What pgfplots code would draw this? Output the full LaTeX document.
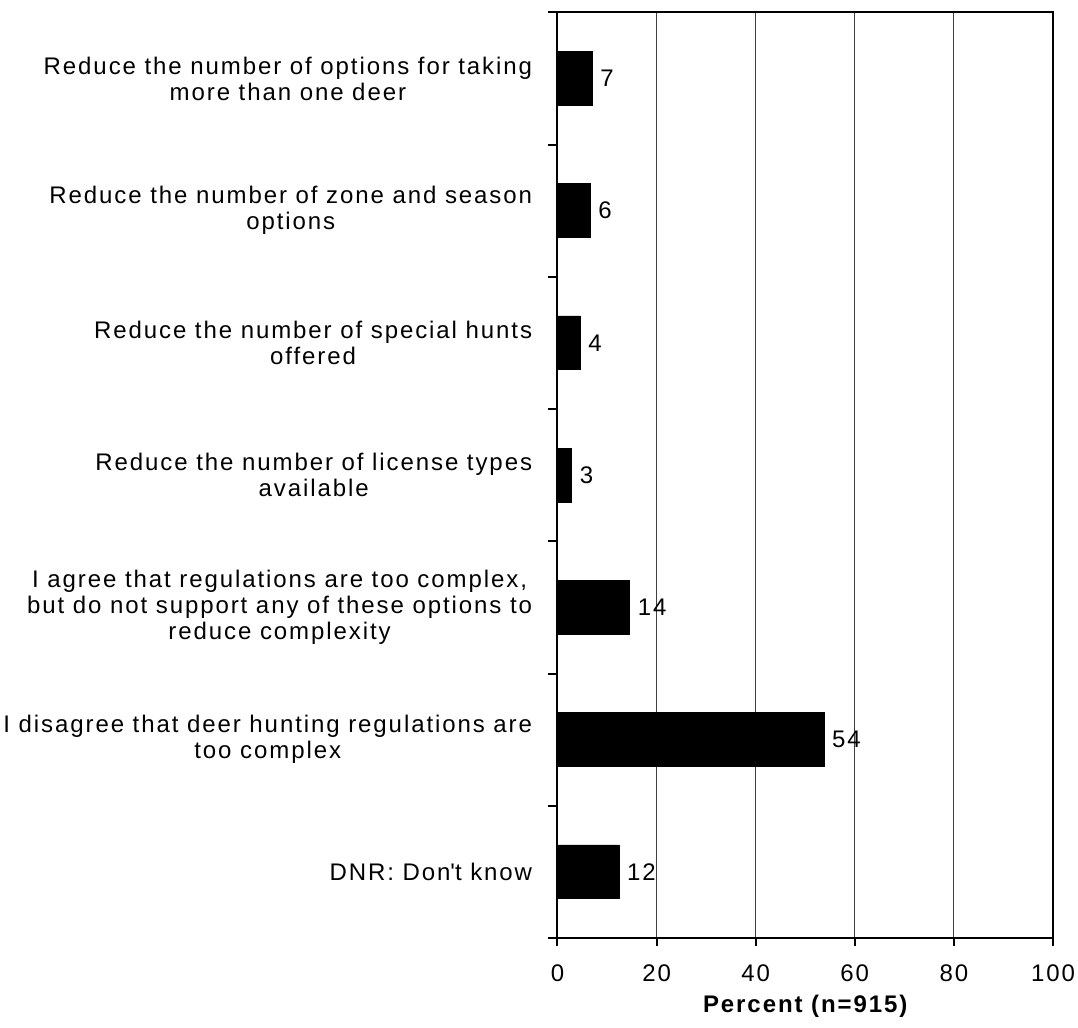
\documentclass[border=0pt]{standalone}
\usepackage{pgfplots}
\usepackage{pgfplotstable}
\pgfplotsset{compat=1.18}
\usepackage{fontspec}
\setmainfont{Liberation Sans}[LetterSpace=8]
\newcommand\lbl{\fontsize{12pt}{13pt}\selectfont}
\pgfplotstableread{
y x lab
1 7.0 7
2 6.6 6
3 4.6 4
4 2.9 3
5 14.6 14
6 53.8 54
7 12.4 12
}\datatable
\begin{document}
\begin{tikzpicture}[x=1pt,y=1pt,font=\lbl]
\begin{axis}[
  at={(0,0)}, anchor=south west,
  scale only axis, width=247.75pt, height=462.85pt,
  xbar, bar width=0.408,
  xmin=0, xmax=100, ymin=0.5, ymax=7.5, y dir=reverse,
  axis line style={line width=1pt, black},
  tick style={line width=1pt, black},
  tick align=outside,
  xtick={0,20,...,100}, xtick pos=bottom,
  major tick length=4pt,
  xmajorgrids, grid style={line width=0.5pt, black!75},
  ytick={1,...,7}, ytick pos=left,
  ytick style={draw=none},
  yticklabels={
    {Reduce the number of options for taking\\more than one deer},
    {Reduce the number of zone and season\\options},
    {Reduce the number of special hunts\\offered},
    {Reduce the number of license types\\available},
    {I agree that regulations are too complex,\\but do not support any of these options to\\reduce complexity},
    {I disagree that deer hunting regulations are\\too complex},
    {DNR: Don\textquotesingle t know}},
  yticklabel style={align=center, anchor=east, inner sep=0pt, xshift=-8.5pt, font=\lbl},
  extra y ticks={0.5,1.5,...,7.5}, extra y tick labels={},
  extra y tick style={ytick style={draw=black, line width=1pt}, major tick length=4.5pt, grid=none},
  xticklabel style={inner sep=0pt, anchor=north, yshift=-9pt, font=\lbl},
  /pgf/number format/assume math mode=true,
  every node near coord/.append style={anchor=west, inner sep=0pt, xshift=3.85pt, font=\lbl, black},
  clip=false,
]
\addplot[fill=black, draw=black, nodes near coords, point meta=explicit symbolic]
  table[x=x, y=y, meta=lab] {\datatable};
\node[anchor=base, inner sep=0pt, font=\lbl\bfseries] at (axis description cs:0.5,0) [yshift=-37pt] {Percent (n=915)};
\end{axis}
\pgfresetboundingbox
\path[use as bounding box] (-278.75,-45) rectangle (260.25,469);
\end{tikzpicture}
\end{document}
